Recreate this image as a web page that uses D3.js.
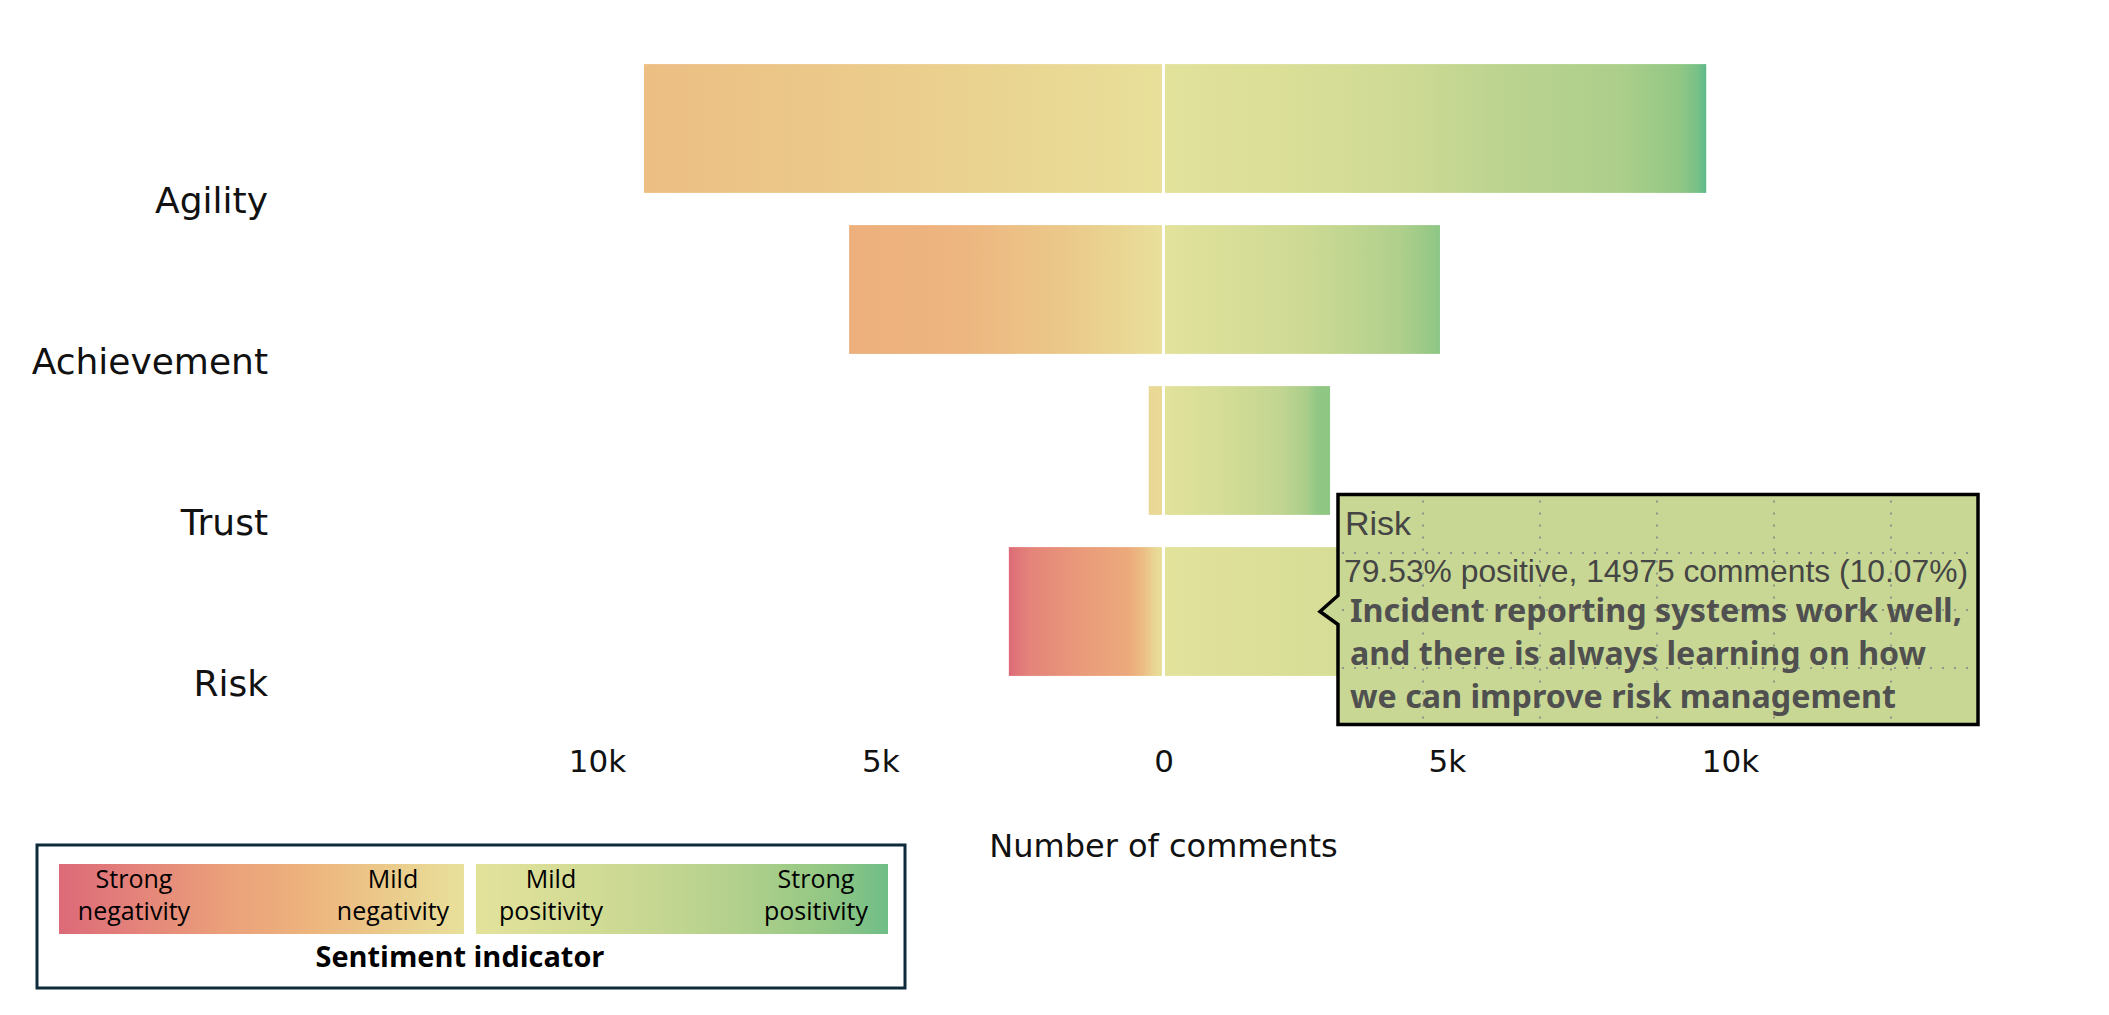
<!DOCTYPE html>
<html>
<head>
<meta charset="utf-8">
<script src="https://cdn.jsdelivr.net/npm/d3@7"></script>
<style>
  html, body { margin: 0; padding: 0; background: #ffffff; }
  svg { display: block; }
</style>
</head>
<body>
<div id="chart"></div>
<script>
// ---------------- DATA ----------------
const categories = ["Agility", "Achievement", "Trust", "Risk"];
const negativeComments = [9170, 5550, 260, 2730];
const positiveComments = [9580, 4880, 2940, 10600];

// sentiment profile along each half-bar: [fraction along bar, sentiment score]
// negative halves run from the outer (left) end to zero, positive halves from zero to the outer (right) end
const negativeProfiles = [
  [[0, -0.3], [0.5, -0.17], [1, -0.01]],
  [[0, -0.42], [0.35, -0.37], [0.7, -0.2], [1, -0.01]],
  [[0, -0.08], [1, -0.06]],
  [[0, -1], [0.04, -0.92], [0.14, -0.8], [0.5, -0.62], [0.78, -0.48], [0.87, -0.32], [0.95, -0.1], [1, -0.01]]
];
const positiveProfiles = [
  [[0, 0.02], [0.25, 0.15], [0.45, 0.3], [0.6, 0.48], [0.84, 0.63], [0.95, 0.8], [0.985, 0.9], [1, 1]],
  [[0, 0.02], [0.5, 0.3], [0.85, 0.6], [0.95, 0.75], [1, 0.82]],
  [[0, 0.02], [0.4, 0.25], [0.7, 0.45], [0.86, 0.65], [0.92, 0.8], [1, 0.82]],
  [[0, 0.02], [0.3, 0.2], [0.7, 0.45], [0.95, 0.7], [1, 0.85]]
];

const tickValues = [-10000, -5000, 0, 5000, 10000];
const tickLabels = ["10k", "5k", "0", "5k", "10k"];
const axisTitle = "Number of comments";

// sentiment colour scale
const sentimentDomain = [-1, -0.8, -0.6, -0.4, -0.2, -0.0001, 0, 0.2, 0.4, 0.6, 0.8, 1];
const sentimentColors = ["#dc6a79", "#e4847a", "#eb9f7a", "#edb27d", "#ebc98b", "#e8e19b",
                         "#e3e29b", "#d6dd96", "#c6d792", "#b0d08c", "#92c784", "#5cb98a"];

// legend
const legendNegLabels = [["Strong", "negativity"], ["Mild", "negativity"]];
const legendPosLabels = [["Mild", "positivity"], ["Strong", "positivity"]];
const legendTitle = "Sentiment indicator";

// tooltip (hovered category)
const tipCategory = "Risk";
const tipPositivePct = "79.53";
const tipComments = 14975;
const tipSharePct = "10.07";
const tipQuote = ["Incident reporting systems work well,",
                  "and there is always learning on how",
                  "we can improve risk management"];

// ---------------- CHART ----------------
const W = 2109, H = 1015;
const svg = d3.select("#chart").append("svg").attr("width", W).attr("height", H);
const defs = svg.append("defs");

const color = d3.scaleLinear().domain(sentimentDomain).range(sentimentColors).interpolate(d3.interpolateRgb);

const x = d3.scaleLinear().domain([-10000, 10000]).range([597, 1730]);
const y = d3.scaleBand().domain(categories).range([48, 692]).paddingInner(0.2).paddingOuter(0.1);
const gap = 1.5;

function makeGradient(id, profile) {
  const g = defs.append("linearGradient").attr("id", id)
    .attr("x1", "0%").attr("x2", "100%").attr("y1", "0%").attr("y2", "0%");
  profile.forEach(([p, s]) => {
    g.append("stop").attr("offset", (p * 100) + "%").attr("stop-color", color(s));
  });
}

categories.forEach((c, i) => {
  makeGradient("neg" + i, negativeProfiles[i]);
  makeGradient("pos" + i, positiveProfiles[i]);
});

const bars = svg.append("g");
bars.selectAll("rect.neg").data(categories).join("rect")
  .attr("class", "neg")
  .attr("x", (c, i) => x(-negativeComments[i]))
  .attr("y", c => y(c))
  .attr("width", (c, i) => Math.max(0, x(0) - gap - x(-negativeComments[i])))
  .attr("height", y.bandwidth())
  .attr("fill", (c, i) => `url(#neg${i})`);

bars.selectAll("rect.pos").data(categories).join("rect")
  .attr("class", "pos")
  .attr("x", x(0) + gap)
  .attr("y", c => y(c))
  .attr("width", (c, i) => Math.max(0, x(positiveComments[i]) - x(0) - gap))
  .attr("height", y.bandwidth())
  .attr("fill", (c, i) => `url(#pos${i})`);

// category labels
svg.append("g").selectAll("text").data(categories).join("text")
  .attr("x", 268)
  .attr("y", c => y(c) + y.bandwidth() + 20)
  .attr("text-anchor", "end")
  .attr("font-family", "'DejaVu Sans', sans-serif")
  .attr("font-size", 36)
  .attr("fill", "#111")
  .text(c => c);

// x axis
const axis = d3.axisBottom(x).tickValues(tickValues)
  .tickFormat((d, i) => tickLabels[i]).tickSize(0).tickPadding(0);
const axG = svg.append("g").attr("transform", "translate(0,750)").call(axis);
axG.select(".domain").remove();
axG.selectAll("text")
  .attr("font-family", "'DejaVu Sans', sans-serif")
  .attr("font-size", 31)
  .attr("fill", "#111");

svg.append("text")
  .attr("x", x(0)).attr("y", 857)
  .attr("text-anchor", "middle")
  .attr("font-family", "'DejaVu Sans', sans-serif")
  .attr("font-size", 32)
  .attr("fill", "#111")
  .text(axisTitle);

// ---------------- LEGEND ----------------
const lg = svg.append("g");
lg.append("rect").attr("x", 37).attr("y", 845).attr("width", 868).attr("height", 143)
  .attr("fill", "#fff").attr("stroke", "#0e2a3b").attr("stroke-width", 3);

const legNegProfile = d3.range(0, 1.0001, 0.05).map(p => [p, -1 + p * 0.9999]);
const legPosProfile = d3.range(0, 1.0001, 0.05).map(p => [p, p * 0.93]);
makeGradient("legNeg", legNegProfile);
makeGradient("legPos", legPosProfile);
lg.append("rect").attr("x", 59).attr("y", 864).attr("width", 405).attr("height", 70).attr("fill", "url(#legNeg)");
lg.append("rect").attr("x", 476).attr("y", 864).attr("width", 412).attr("height", 70).attr("fill", "url(#legPos)");

const legLabelX = [134, 393, 551, 816];
const legLabels = legendNegLabels.concat(legendPosLabels);
legLabels.forEach((pair, i) => {
  [888, 920].forEach((ly, k) => {
    lg.append("text")
      .attr("x", legLabelX[i]).attr("y", ly)
      .attr("text-anchor", "middle")
      .attr("font-family", "'Open Sans', sans-serif")
      .attr("font-size", 25)
      .attr("fill", "#000")
      .text(pair[k]);
  });
});
lg.append("text")
  .attr("x", 460).attr("y", 967)
  .attr("text-anchor", "middle")
  .attr("font-family", "'Open Sans', sans-serif")
  .attr("font-weight", 700)
  .attr("font-size", 28)
  .attr("textLength", 289).attr("lengthAdjust", "spacingAndGlyphs")
  .attr("fill", "#000")
  .text(legendTitle);

// ---------------- TOOLTIP ----------------
const cy = y(tipCategory) + y.bandwidth() / 2;
const tipX = 1320, bx0 = 1338, bx1 = 1978, by0 = cy - 117, by1 = cy + 113;
const tg = svg.append("g");
const tipPath = `M${bx0},${by0} H${bx1} V${by1} H${bx0} V${cy + 13} L${tipX},${cy} L${bx0},${cy - 16} Z`;
tg.append("path").attr("d", tipPath).attr("fill", "#c8d894");

// dotted cell grid seen through the box
const grid = tg.append("g").attr("stroke", "#8f9588").attr("stroke-width", 2).attr("stroke-dasharray", "2,10");
[1423, 1540, 1657, 1774, 1891].forEach(gx => {
  grid.append("line").attr("x1", gx).attr("x2", gx).attr("y1", by0 + 6).attr("y2", by1 - 4);
});
[553, 610, 668].forEach(gy => {
  grid.append("line").attr("x1", bx0 + 4).attr("x2", bx1 - 4).attr("y1", gy).attr("y2", gy);
});

tg.append("path").attr("d", tipPath).attr("fill", "none")
  .attr("stroke", "#000").attr("stroke-width", 3.5).attr("stroke-linejoin", "miter");

tg.append("text")
  .attr("x", 1345).attr("y", 535)
  .attr("font-family", "'Liberation Sans', Arial, sans-serif")
  .attr("font-size", 34).attr("fill", "#454545")
  .text(tipCategory);
tg.append("text")
  .attr("x", 1344).attr("y", 582)
  .attr("font-family", "'Liberation Sans', Arial, sans-serif")
  .attr("font-size", 32).attr("fill", "#454545")
  .attr("textLength", 624).attr("lengthAdjust", "spacingAndGlyphs")
  .text(`${tipPositivePct}% positive, ${tipComments} comments (${tipSharePct}%)`);

const quoteLens = [612, 576, 546];
const quoteY = [622, 665, 708];
tipQuote.forEach((line, i) => {
  tg.append("text")
    .attr("x", 1350).attr("y", quoteY[i])
    .attr("font-family", "'Noto Sans', 'Open Sans', sans-serif")
    .attr("font-weight", 700)
    .attr("font-size", 32).attr("fill", "#505050")
    .attr("textLength", quoteLens[i]).attr("lengthAdjust", "spacingAndGlyphs")
    .text(line);
});
</script>
</body>
</html>
